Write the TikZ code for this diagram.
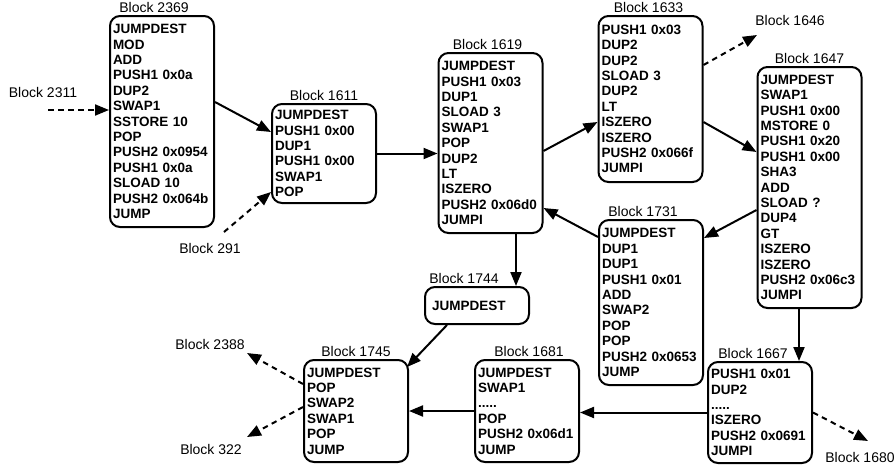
\documentclass[tikz,border=0pt]{standalone}
\usepackage{fontspec}
\setmainfont{Liberation Sans}
\usetikzlibrary{positioning}
\usetikzlibrary{arrows.meta}

\begin{document}
\begin{tikzpicture}
	[x=1pt,y=-1pt,
	block/.style={draw=black,line width=2pt,rounded corners=10pt,text width=98pt,inner xsep=3pt,inner ysep=0pt,align=left,font=\fontsize{13.5}{15.4}\selectfont\bfseries},
	caption/.style={inner sep=1pt,font=\fontsize{14}{15}\selectfont},
	flow/.style={draw=black,line width=2pt,-{Triangle[length=14pt,width=11pt]}},
	dflow/.style={flow,dash pattern=on 5.5pt off 4.5pt}]

	\useasboundingbox (0,0) rectangle (896,466);

	% Draw the blocks
	\node at (162,121.5) [block,minimum height=211pt](b2369){JUMPDEST\\MOD\\ADD\\PUSH1 0x0a\\DUP2\\SWAP1\\SSTORE 10\\POP\\PUSH2 0x0954\\PUSH1 0x0a\\SLOAD 10\\PUSH2 0x064b\\JUMP};
	\node at (324,153.5) [block,minimum height=99pt](b1611){JUMPDEST\\PUSH1 0x00\\DUP1\\PUSH1 0x00\\SWAP1\\POP};
	\node at (490.5,143) [block,minimum height=180pt](b1619){JUMPDEST\\PUSH1 0x03\\DUP1\\SLOAD 3\\SWAP1\\POP\\DUP2\\LT\\ISZERO\\PUSH2 0x06d0\\JUMPI};
	\node at (650.5,99) [block,minimum height=166pt](b1633){PUSH1 0x03\\DUP2\\DUP2\\SLOAD 3\\DUP2\\LT\\ISZERO\\ISZERO\\PUSH2 0x066f\\JUMPI};
	\node at (809.5,187.5) [block,minimum height=241pt](b1647){JUMPDEST\\SWAP1\\PUSH1 0x00\\MSTORE 0\\PUSH1 0x20\\PUSH1 0x00\\SHA3\\ADD\\SLOAD ?\\DUP4\\GT\\ISZERO\\ISZERO\\PUSH2 0x06c3\\JUMPI};
	\node at (651,302.5) [block,minimum height=165pt](b1731){JUMPDEST\\DUP1\\DUP1\\PUSH1 0x01\\ADD\\SWAP2\\POP\\POP\\PUSH2 0x0653\\JUMP};
	\node at (760,412.5) [block,minimum height=101pt](b1667){PUSH1 0x01\\DUP2\\.....\\ISZERO\\PUSH2 0x0691\\JUMPI};
	\node at (477,305.5) [block,minimum height=37pt](b1744){\hspace*{4pt}JUMPDEST};
	\node at (356,411) [block,minimum height=102pt](b1745){JUMPDEST\\POP\\SWAP2\\SWAP1\\POP\\JUMP};
	\node at (527,411) [block,minimum height=102pt](b1681){JUMPDEST\\SWAP1\\.....\\POP\\PUSH2 0x06d1\\JUMP};

	% Draw the block captions
	\node[caption,above=1pt of b2369,xshift=-8pt](t2369){Block 2369};
	\node[caption,above=1pt of b1611](t1611){Block 1611};
	\node[caption,above=1pt of b1619,xshift=-3pt](t1619){Block 1619};
	\node[caption,above=1pt of b1633,xshift=-2pt](t1633){Block 1633};
	\node[caption,above=1pt of b1647](t1647){Block 1647};
	\node[caption,above=1pt of b1731,xshift=-8pt](t1731){Block 1731};
	\node[caption,above=1pt of b1667,xshift=-7pt](t1667){Block 1667};
	\node[caption,above=1pt of b1744,xshift=-13pt](t1744){Block 1744};
	\node[caption,above=1pt of b1745](t1745){Block 1745};
	\node[caption,above=1pt of b1681,xshift=2pt](t1681){Block 1681};

	% Draw the outside blocks
	\node at (43,92) [caption](e2311){Block 2311};
	\node at (210,248) [caption](e291){Block 291};
	\node at (790,20) [caption](e1646){Block 1646};
	\node at (210,344) [caption](e2388){Block 2388};
	\node at (211,449) [caption](e322){Block 322};
	\node at (860,457) [caption](e1680){Block 1680};
	\coordinate (c2311) at (48,110);
	\coordinate (c291) at (224,232);
	\coordinate (c1646) at (757,35);
	\coordinate (c2388) at (247,353);
	\coordinate (c322) at (247,437);
	\coordinate (c1680) at (868,441);

	% Draw the links between the blocks
	\draw[flow] ([yshift=19.5pt]b2369.east) -- ([yshift=21.5pt]b1611.west);
	\draw[flow] (b1611.east) -- (b1611.east -| b1619.west);
	\draw[flow] ([yshift=-8pt]b1619.east) -- ([yshift=-23pt]b1633.west);
	\draw[flow] ([yshift=-23pt]b1633.east) -- ([yshift=35.5pt]b1647.west);
	\draw[flow] ([yshift=-22.5pt]b1647.west) -- ([yshift=64.5pt]b1731.east);
	\draw[flow] ([yshift=65.5pt]b1731.west) -- ([yshift=-65pt]b1619.east);
	\draw[flow] ([xshift=25.5pt]b1619.south) -- ([xshift=39pt]b1744.north);
	\draw[flow] ([xshift=-10.5pt]b1647.south) -- ([xshift=39pt]b1667.north);
	\draw[flow] (b1667.west) -- (b1667.west -| b1681.east);
	\draw[flow] (b1681.west) -- (b1745.east);
	\draw[flow] ([xshift=-30pt]b1744.south) -- ([xshift=-2pt,yshift=-8pt]b1745.north east);

	% Draw the links to the outside blocks
	\draw[dflow] (c2311) -- ([yshift=11.5pt]b2369.west);
	\draw[dflow] (c291) -- ([yshift=-38.5pt]b1611.west);
	\draw[dflow] ([yshift=34pt]b1633.east) -- (c1646);
	\draw[dflow] ([yshift=27pt]b1745.west) -- (c2388);
	\draw[dflow] ([yshift=4pt]b1745.west) -- (c322);
	\draw[dflow] (b1667.east) -- (c1680);
\end{tikzpicture}
\end{document}
